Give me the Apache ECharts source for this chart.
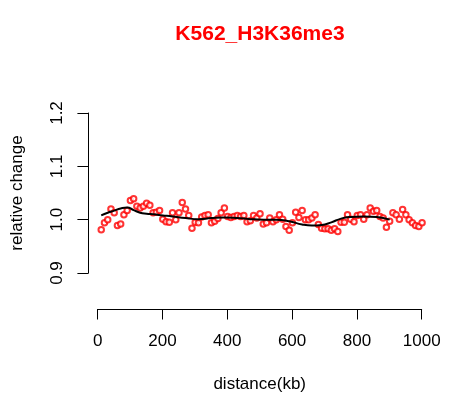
<!DOCTYPE html>
<html><head><meta charset="utf-8">
<script src="https://cdn.jsdelivr.net/npm/echarts@6/dist/echarts.min.js"></script>
<style>html,body{margin:0;padding:0;background:#fff}#c{width:461px;height:404px}</style>
</head><body><div id="c"></div>
<script>
var distance = [10,20,30,40,50,60,70,80,90,100,110,120,130,140,150,160,170,180,190,200,
  210,220,230,240,250,260,270,280,290,300,310,320,330,340,350,360,370,380,390,400,
  410,420,430,440,450,460,470,480,490,500,510,520,530,540,550,560,570,580,590,600,
  610,620,630,640,650,660,670,680,690,700,710,720,730,740,750,760,770,780,790,800,
  810,820,830,840,850,860,870,880,890,900,910,920,930,940,950,960,970,980,990,1000];
var relChange = [0.981,0.994,1.000,1.020,1.013,0.989,0.992,1.009,1.017,1.036,
  1.039,1.025,1.022,1.025,1.031,1.027,1.013,1.014,1.017,1.001,
  0.996,0.995,1.013,1.000,1.013,1.032,1.020,1.008,0.984,0.995,
  0.994,1.005,1.008,1.009,0.994,0.997,1.002,1.013,1.022,1.006,
  1.004,1.006,1.008,1.006,1.008,0.996,0.998,1.008,1.003,1.011,
  0.992,0.994,1.003,0.996,1.000,1.009,1.001,0.987,0.980,0.994,
  1.014,1.004,1.017,1.000,1.000,1.003,1.009,0.991,0.984,0.983,
  0.983,0.980,0.983,0.978,0.995,0.995,1.009,1.001,0.996,1.008,
  1.009,1.001,1.009,1.022,1.016,1.017,1.006,1.003,0.986,0.997,
  1.013,1.009,1.001,1.019,1.009,1.000,0.994,0.989,0.987,0.994];
var smoothX = [10,30,50,70,90,110,130,150,170,200,230,270,310,350,390,430,470,510,550,590,630,660,690,720,750,780,820,860,900];
var smoothY = [1.008,1.013,1.017,1.021,1.023,1.018,1.013,1.011,1.010,1.008,1.006,1.003,1.001,1.003,1.004,1.003,1.001,1.000,1.000,0.997,0.991,0.989,0.990,0.995,1.002,1.005,1.006,1.005,1.000];
var xTicks = [0,200,400,600,800,1000];
var yTicks = [0.9,1.0,1.1,1.2];
var titleText = 'K562_H3K36me3';
var xLabel = 'distance(kb)';
var yLabel = 'relative change';

var FONT = 'Liberation Sans, Arial, Helvetica, sans-serif';
var pts = distance.map(function(d,i){return [d, relChange[i]];});
var line = smoothX.map(function(d,i){return [d, smoothY[i]];});

var chart = echarts.init(document.getElementById('c'), null, {renderer:'canvas'});
chart.setOption({
  animation:false,
  backgroundColor:'#fff',
  title:{text:titleText, left:255, top:19, textAlign:'center',
    textStyle:{color:'#ff0000', fontSize:21, fontWeight:'bold', fontFamily:FONT}},
  grid:[
    {left:88.4, top:113, width:346.5, height:160},
    {left:97.7, top:299, width:324, height:10}
  ],
  xAxis:[
    {gridIndex:0, type:'value', min:-29.6, max:1039.6, show:false},
    {gridIndex:1, type:'value', min:0, max:1000, interval:200,
      axisLine:{show:true, onZero:false, lineStyle:{color:'#000', width:1}},
      axisTick:{show:true, length:10.5, lineStyle:{color:'#000', width:1}},
      axisLabel:{show:true, margin:24, color:'#000', fontSize:17, fontFamily:FONT,
        formatter:function(v){return xTicks.indexOf(v)>=0 ? String(v) : '';}},
      splitLine:{show:false},
      name:xLabel, nameLocation:'middle', nameGap:67,
      nameTextStyle:{color:'#000', fontSize:17, fontFamily:FONT}}
  ],
  yAxis:[
    {gridIndex:0, type:'value', min:0.9, max:1.2, interval:0.1,
      axisLine:{show:true, onZero:false, lineStyle:{color:'#000', width:1}},
      axisTick:{show:true, length:11, lineStyle:{color:'#000', width:1}},
      axisLabel:{show:true, rotate:90, margin:23, color:'#000', fontSize:17, fontFamily:FONT,
        formatter:function(v){return v.toFixed(1);}},
      splitLine:{show:false},
      name:yLabel, nameLocation:'middle', nameGap:63,
      nameTextStyle:{color:'#000', fontSize:17, fontFamily:FONT}},
    {gridIndex:1, type:'value', show:false}
  ],
  series:[
    {type:'scatter', xAxisIndex:0, yAxisIndex:0, data:pts, symbol:'circle', symbolSize:5.5,
      itemStyle:{color:'#ffffff', borderColor:'#ff0000', borderWidth:2}, z:2},
    {type:'line', xAxisIndex:0, yAxisIndex:0, data:line, smooth:true, showSymbol:false,
      lineStyle:{color:'#000', width:2}, z:3}
  ]
});
</script></body></html>
